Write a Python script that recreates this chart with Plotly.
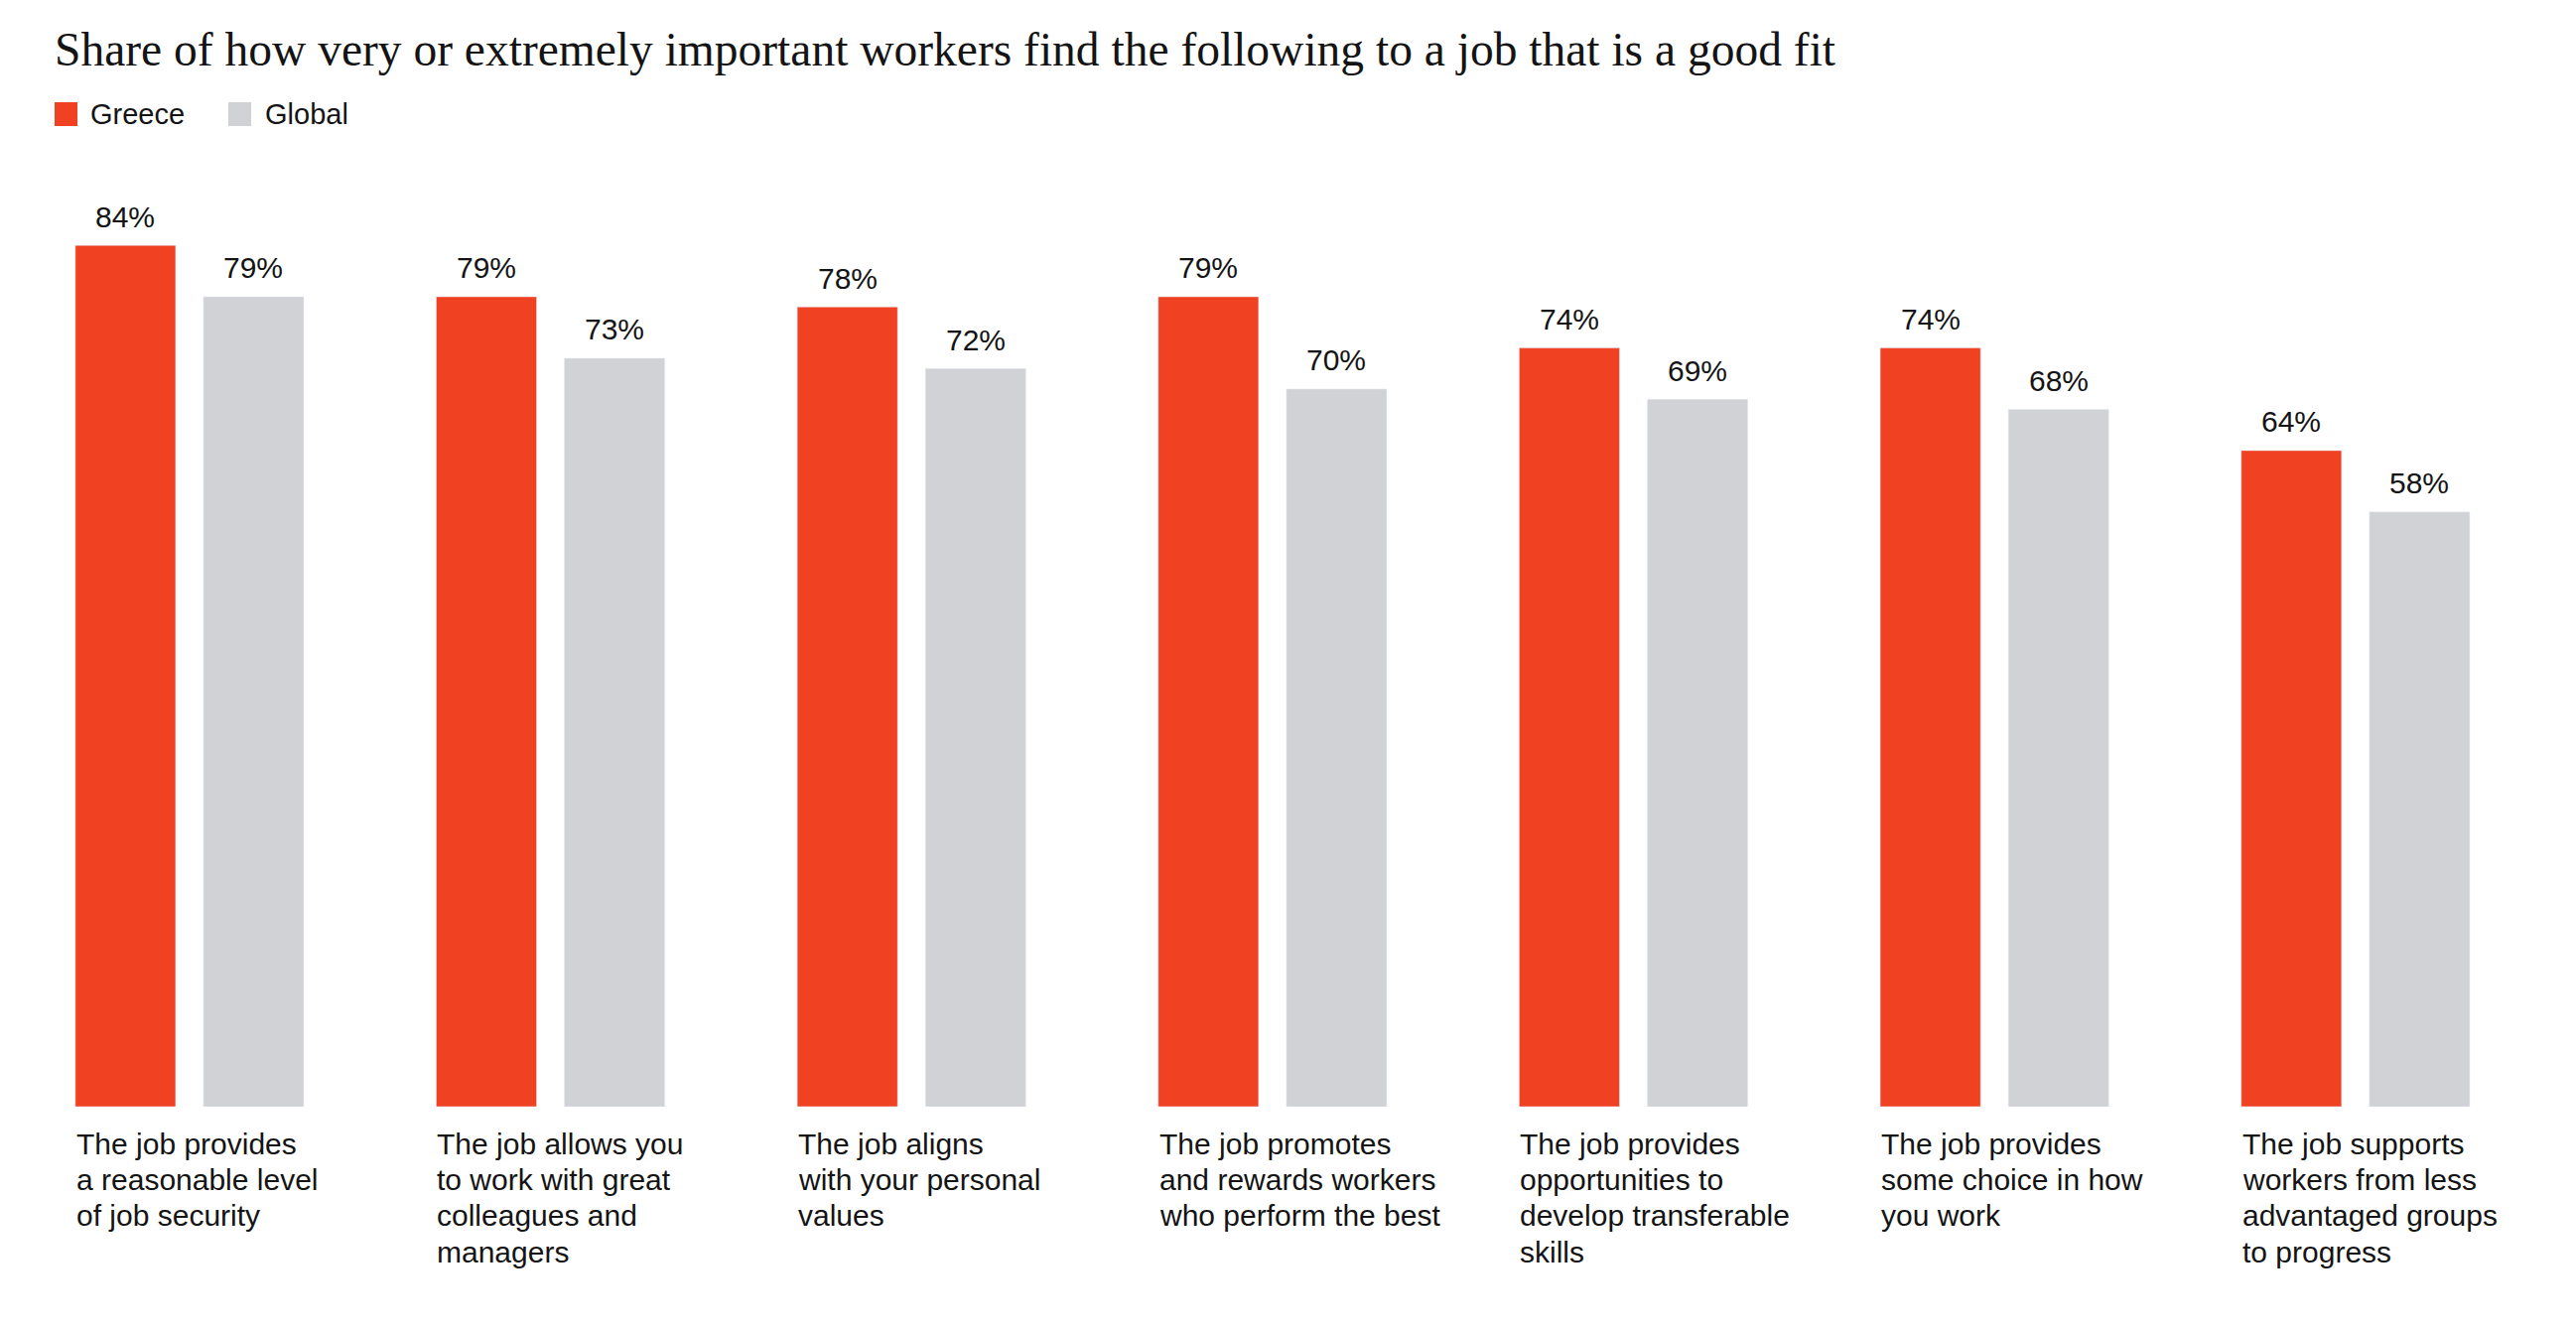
import plotly.graph_objects as go

# ---- data ----
categories = [
    "The job provides<br>a reasonable level<br>of job security",
    "The job allows you<br>to work with great<br>colleagues and<br>managers",
    "The job aligns<br>with your personal<br>values",
    "The job promotes<br>and rewards workers<br>who perform the best",
    "The job provides<br>opportunities to<br>develop transferable<br>skills",
    "The job provides<br>some choice in how<br>you work",
    "The job supports<br>workers from less<br>advantaged groups<br>to progress",
]
greece = [84, 79, 78, 79, 74, 74, 64]
global_ = [79, 73, 72, 70, 69, 68, 58]
series_names = ["Greece", "Global"]
title_text = "Share of how very or extremely important workers find the following to a job that is a good fit"

# ---- style ----
RED = "#F04123"
GRAY = "#D0D2D5"
TXT = "#141414"
SANS = "Liberation Sans, Arial, sans-serif"
SERIF = "Liberation Serif, Times New Roman, serif"

W, H = 2595, 1339
half = 0.3165
bw = 0.278
xpos = list(range(len(categories)))

fig = go.Figure()
fig.add_trace(go.Bar(x=xpos, y=greece, name=series_names[0], marker_color=RED,
                     width=bw, offset=-half, hoverinfo="skip"))
fig.add_trace(go.Bar(x=xpos, y=global_, name=series_names[1], marker_color=GRAY,
                     width=bw, offset=half - bw, hoverinfo="skip"))

annotations = []
# value labels
for i, (g, gl) in enumerate(zip(greece, global_)):
    for val, cx in ((g, i - half + bw / 2), (gl, i + half - bw / 2)):
        annotations.append(dict(x=cx, y=val, xref="x", yref="y", text=f"{val}%",
                                showarrow=False, yanchor="middle", xanchor="center",
                                yshift=29, font=dict(family=SANS, size=30, color=TXT)))
# category labels, line by line
for i, cat in enumerate(categories):
    for j, line in enumerate(cat.split("<br>")):
        annotations.append(dict(x=i - half, y=0, xref="x", yref="y", text=line,
                                showarrow=False, xanchor="left", yanchor="middle",
                                yshift=-(37 + j * 36.4), xshift=-1,
                                font=dict(family=SANS, size=30, color=TXT)))

# custom legend
plot_top, plot_bot = 82, 1115
ph = plot_bot - plot_top
def py(p):
    return (plot_bot - p) / ph

shapes = []
leg = [(series_names[0], RED, 55, 89), (series_names[1], GRAY, 230, 265)]
for name, col, sx, tx in leg:
    shapes.append(dict(type="rect", xref="paper", yref="paper", x0=sx / W, x1=(sx + 23) / W,
                       y0=py(127), y1=py(103), fillcolor=col, line=dict(width=0)))
    annotations.append(dict(x=tx / W, y=py(115), xref="paper", yref="paper", text=name,
                            showarrow=False, xanchor="left", yanchor="middle",
                            font=dict(family=SANS, size=29, color=TXT)))

fig.update_layout(
    width=W, height=H,
    margin=dict(l=0, r=0, t=plot_top, b=H - plot_bot, pad=0),
    paper_bgcolor="white", plot_bgcolor="white",
    showlegend=False,
    title=dict(text=title_text, x=55 / W, xanchor="left", xref="paper",
               y=1 - 49 / H, yanchor="middle", yref="container",
               font=dict(family=SERIF, size=47.5, color=TXT)),
    xaxis=dict(range=[-0.525, 6.611], visible=False, fixedrange=True),
    yaxis=dict(range=[0, 100], visible=False, fixedrange=True),
    annotations=annotations,
    shapes=shapes,
)

fig.write_html("out.html")
